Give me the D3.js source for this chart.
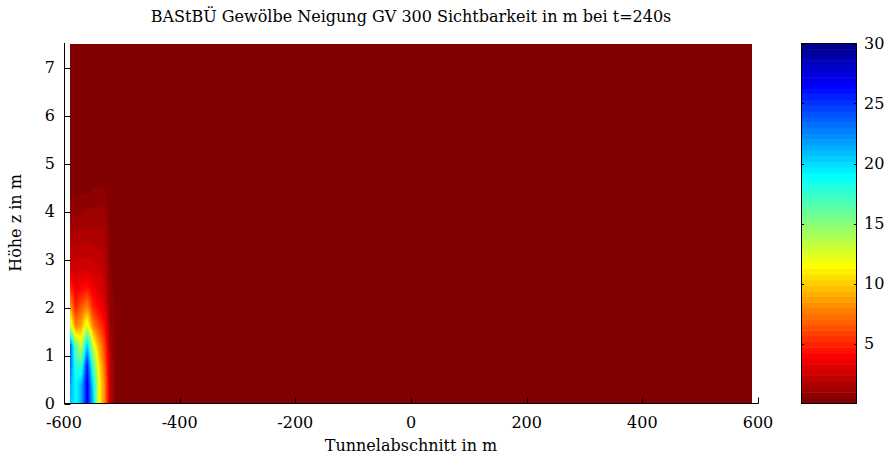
<!DOCTYPE html>
<html>
<head>
<meta charset="utf-8">
<script src="https://cdn.jsdelivr.net/npm/d3@7"></script>
<style>
  html, body { margin: 0; padding: 0; background: #fff; }
  svg { display: block; font-family: "DejaVu Serif", "Liberation Serif", serif; }
</style>
</head>
<body>
<svg id="chart" width="888" height="461"></svg>
<script>
// ---- data ----
const titleText = "BAStBÜ Gewölbe Neigung GV 300 Sichtbarkeit in m bei t=240s";
const xLabel = "Tunnelabschnitt in m";
const yLabel = "Höhe z in m";
const xTicks = [-600, -400, -200, 0, 200, 400, 600];
const yTicks = [0, 1, 2, 3, 4, 5, 6, 7];
const cTicks = [5, 10, 15, 20, 25, 30];
// tunnel positions (m) of the grid columns
const tunnelX = [-590, -580, -570, -560, -550, -540, -530, -520, -510, 590];
// heights (m) of the grid rows
const heightZ = [0, 0.4, 0.8, 1.2, 1.6, 2.0, 2.4, 2.8, 3.2, 3.6, 4.0, 4.4, 5.0, 7.5];
// visibility in m, one row per height, one value per tunnel column
const visibility = [
  [21, 19, 21, 27, 21, 12, 8, 2.0, 0.3, 0.3],
  [22, 19, 21, 27, 20, 12, 8, 2.0, 0.3, 0.3],
  [24, 18, 17, 26, 17, 11, 7, 2.0, 0.3, 0.3],
  [25, 16, 13, 21, 13, 9, 6, 1.5, 0.3, 0.3],
  [14, 8, 9, 13, 8, 6, 4.5, 1.0, 0.3, 0.3],
  [9, 5, 6.5, 8, 5, 4, 3, 0.8, 0.3, 0.3],
  [5.5, 3.5, 4, 4.5, 3.5, 3, 2.5, 0.6, 0.3, 0.3],
  [2.6, 2.6, 2.7, 2.7, 2.6, 2.4, 2.0, 0.5, 0.3, 0.3],
  [2.0, 2.0, 2.1, 2.1, 2.0, 1.9, 1.7, 0.4, 0.3, 0.3],
  [1.3, 1.4, 1.5, 1.5, 1.5, 1.5, 1.4, 0.4, 0.3, 0.3],
  [0.7, 0.8, 0.9, 1.0, 1.0, 1.1, 1.0, 0.3, 0.3, 0.3],
  [0.3, 0.35, 0.4, 0.45, 0.5, 0.55, 0.5, 0.3, 0.3, 0.3],
  [0.2, 0.2, 0.2, 0.2, 0.2, 0.2, 0.2, 0.2, 0.2, 0.2],
  [0.2, 0.2, 0.2, 0.2, 0.2, 0.2, 0.2, 0.2, 0.2, 0.2]
];
const colorDomain = [0, 30];

// ---- MATLAB jet(64), flipped ----
function jet(m) {
  const n = Math.ceil(m / 4);
  const u = [];
  for (let i = 1; i <= n; i++) u.push(i / n);
  for (let i = 1; i < n; i++) u.push(1);
  for (let i = n; i >= 1; i--) u.push(i / n);
  const J = Array.from({length: m}, () => [0, 0, 0]);
  const g0 = Math.ceil(n / 2) - (m % 4 === 1 ? 1 : 0);
  u.forEach((val, k) => {
    const g = g0 + k + 1, r = g + n, b = g - n;
    if (r >= 1 && r <= m) J[r - 1][0] = val;
    if (g >= 1 && g <= m) J[g - 1][1] = val;
    if (b >= 1 && b <= m) J[b - 1][2] = val;
  });
  return J.map(c => d3.rgb(c[0] * 255, c[1] * 255, c[2] * 255));
}
const palette = jet(64).reverse();
const color = d3.scaleQuantize().domain(colorDomain).range(palette);

// ---- layout ----
const svg = d3.select("#chart");
const x = d3.scaleLinear().domain([-600, 600]).range([64, 758]);
const y = d3.scaleLinear().domain([0, 7.5]).range([403.5, 43.5]);
const cy = d3.scaleLinear().domain(colorDomain).range([403.5, 43.5]);
const cbX0 = 801, cbX1 = 857;

// ---- heat map (interpolated shading) ----
function valueAt(xv, zv) {
  let i = d3.bisectRight(tunnelX, xv) - 1;
  i = Math.max(0, Math.min(tunnelX.length - 2, i));
  let j = d3.bisectRight(heightZ, zv) - 1;
  j = Math.max(0, Math.min(heightZ.length - 2, j));
  const tx = Math.max(0, Math.min(1, (xv - tunnelX[i]) / (tunnelX[i + 1] - tunnelX[i])));
  const tz = Math.max(0, Math.min(1, (zv - heightZ[j]) / (heightZ[j + 1] - heightZ[j])));
  const a = visibility[j][i], b = visibility[j][i + 1];
  const c = visibility[j + 1][i], d = visibility[j + 1][i + 1];
  return (a * (1 - tx) + b * tx) * (1 - tz) + (c * (1 - tx) + d * tx) * tz;
}
const px0 = Math.round(x(tunnelX[0])), px1 = Math.round(x(tunnelX[tunnelX.length - 1]));
const py0 = Math.round(y(heightZ[heightZ.length - 1])), py1 = Math.round(y(heightZ[0]));
const W = px1 - px0, H = py1 - py0;
const canvas = document.createElement("canvas");
canvas.width = W; canvas.height = H;
const ctx = canvas.getContext("2d");
const img = ctx.createImageData(W, H);
for (let r = 0; r < H; r++) {
  const zv = y.invert(py0 + r + 0.5);
  for (let c = 0; c < W; c++) {
    const xv = x.invert(px0 + c + 0.5);
    const col = color(valueAt(xv, zv));
    const k = (r * W + c) * 4;
    img.data[k] = col.r; img.data[k + 1] = col.g; img.data[k + 2] = col.b; img.data[k + 3] = 255;
  }
}
ctx.putImageData(img, 0, 0);
svg.append("image")
  .attr("x", px0).attr("y", py0).attr("width", W).attr("height", H)
  .attr("preserveAspectRatio", "none")
  .attr("href", canvas.toDataURL());

// ---- axes ----
const fontSize = 16;
const axisG = svg.append("g").attr("stroke", "#000").attr("stroke-width", 1);
axisG.append("line").attr("x1", 64.5).attr("x2", 64.5).attr("y1", 43).attr("y2", 404);
axisG.append("line").attr("x1", 64).attr("x2", 758.5).attr("y1", 403.5).attr("y2", 403.5);
axisG.selectAll(".yt").data(yTicks).enter().append("line")
  .attr("x1", 64.5).attr("x2", 70.5)
  .attr("y1", d => Math.round(y(d)) + 0.5).attr("y2", d => Math.round(y(d)) + 0.5);
axisG.selectAll(".xt").data(xTicks).enter().append("line")
  .attr("x1", d => Math.round(x(d)) + 0.5).attr("x2", d => Math.round(x(d)) + 0.5)
  .attr("y1", 403.5).attr("y2", 397.5);

svg.selectAll(".ytl").data(yTicks).enter().append("text")
  .attr("x", 55).attr("y", d => y(d) + 5)
  .attr("text-anchor", "end").attr("font-size", fontSize)
  .text(d => d);
svg.selectAll(".xtl").data(xTicks).enter().append("text")
  .attr("x", d => x(d)).attr("y", 428)
  .attr("text-anchor", "middle").attr("font-size", fontSize)
  .text(d => d);

svg.append("text").attr("x", 411).attr("y", 22).attr("text-anchor", "middle")
  .attr("font-size", fontSize).text(titleText);
svg.append("text").attr("x", 411).attr("y", 451).attr("text-anchor", "middle")
  .attr("font-size", fontSize).text(xLabel);
svg.append("text").attr("transform", "translate(21,223) rotate(-90)")
  .attr("text-anchor", "middle").attr("font-size", fontSize).text(yLabel);

// ---- colour bar ----
const bands = d3.range(palette.length).map(i => {
  const [lo, hi] = color.invertExtent(palette[i]);
  return {lo, hi, c: palette[i]};
});
svg.append("g").selectAll("rect").data(bands).enter().append("rect")
  .attr("x", cbX0).attr("width", cbX1 - cbX0)
  .attr("y", d => cy(d.hi)).attr("height", d => cy(d.lo) - cy(d.hi) + 0.5)
  .attr("fill", d => d.c);
svg.append("rect").attr("x", cbX0 + 0.5).attr("y", 43.5)
  .attr("width", cbX1 - cbX0 - 1).attr("height", 360)
  .attr("fill", "none").attr("stroke", "#000").attr("stroke-width", 1);
const cbT = svg.append("g").attr("stroke", "#000");
cbT.selectAll(".l").data(cTicks).enter().append("line")
  .attr("x1", cbX0).attr("x2", cbX0 + 3)
  .attr("y1", d => Math.round(cy(d)) + 0.5).attr("y2", d => Math.round(cy(d)) + 0.5);
cbT.selectAll(".r").data(cTicks).enter().append("line")
  .attr("x1", cbX1 - 3).attr("x2", cbX1)
  .attr("y1", d => Math.round(cy(d)) + 0.5).attr("y2", d => Math.round(cy(d)) + 0.5);
svg.selectAll(".ctl").data(cTicks).enter().append("text")
  .attr("x", 864).attr("y", d => cy(d) + 5)
  .attr("font-size", fontSize).text(d => d);
</script>
</body>
</html>
